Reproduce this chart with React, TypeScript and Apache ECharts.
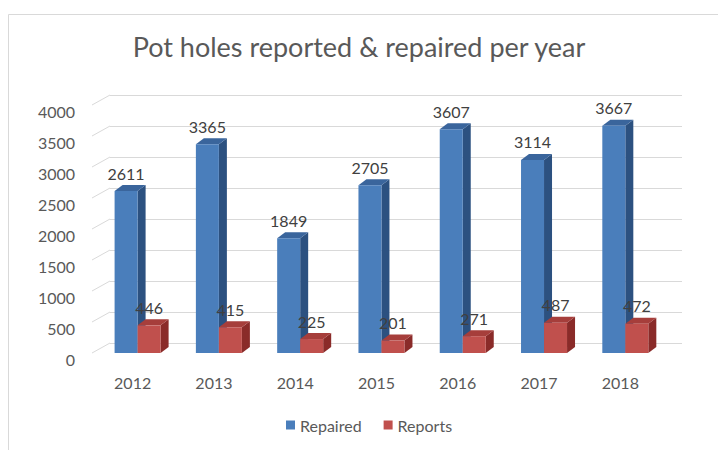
import React, { useEffect, useRef } from "react";
import * as echarts from "echarts";

const years = ["2012", "2013", "2014", "2015", "2016", "2017", "2018"];
const repaired = [2611, 3365, 1849, 2705, 3607, 3114, 3667];
const reports = [446, 415, 225, 201, 271, 487, 472];
const yTicks = [0, 500, 1000, 1500, 2000, 2500, 3000, 3500, 4000];
const seriesNames = ["Repaired", "Reports"];

const FONT = "Lato";
const TXT = "#595959";

function makeBarRender(offsetFrac: number, widthFrac: number, front: string, side: string, topc: string) {
  return (params: any, api: any) => {
    const idx = api.value(0);
    const v = api.value(1);
    const top = api.coord([idx, v]);
    const base = api.coord([idx, 0]);
    const bw = api.size([1, 0])[0];
    const x0 = top[0] + offsetFrac * bw;
    const w = widthFrac * bw;
    const y1 = top[1];
    const y0 = base[1];
    const dx = 8;
    const dy = 6;
    return {
      type: "group",
      children: [
        {
          type: "polygon",
          shape: { points: [[x0 + w, y1], [x0 + w + dx, y1 - dy], [x0 + w + dx, y0 - dy], [x0 + w, y0]] },
          style: { fill: side },
        },
        {
          type: "polygon",
          shape: { points: [[x0, y1], [x0 + dx, y1 - dy], [x0 + w + dx, y1 - dy], [x0 + w, y1]] },
          style: { fill: topc },
        },
        {
          type: "rect",
          shape: { x: x0, y: y1, width: w, height: y0 - y1 },
          style: { fill: front },
        },
        {
          type: "text",
          style: {
            text: String(v),
            x: x0 + w / 2,
            y: y1 - 18,
            align: "center",
            verticalAlign: "middle",
            fill: "#404040",
            fontSize: 16,
            fontFamily: FONT,
          },
        },
      ],
    };
  };
}

export default function App() {
  const ref = useRef<HTMLDivElement>(null);
  useEffect(() => {
    if (!ref.current) return;
    const chart = echarts.init(ref.current, undefined, { renderer: "svg" });
    const option: any = {
      animation: false,
      backgroundColor: "#ffffff",
      title: {
        text: "Pot holes reported & repaired per year",
        left: "center",
        top: 28,
        textStyle: { fontSize: 27, fontWeight: "normal", color: TXT, fontFamily: FONT },
      },
      legend: {
        data: seriesNames,
        left: 281,
        top: 412,
        icon: "rect",
        itemWidth: 9,
        itemHeight: 9,
        itemGap: 22,
        textStyle: { fontSize: 16, color: TXT, fontFamily: FONT },
      },
      graphic: [
        {
          type: "rect",
          shape: { x: 8.5, y: 14.5, width: 800, height: 600 },
          style: { fill: "none", stroke: "#d9d9d9", lineWidth: 1 },
          silent: true,
        },
      ],
      grid: [
        { left: 92, right: 57, top: 105, bottom: 97 },
        { left: 110, right: 36, top: 95, bottom: 107 },
      ],
      xAxis: [
        {
          gridIndex: 0,
          type: "category",
          data: years,
          axisLine: { show: false },
          axisTick: { show: false },
          axisLabel: { margin: 21, fontSize: 16, color: TXT, fontFamily: FONT },
        },
        { gridIndex: 1, type: "value", min: 0, max: 1, show: false },
      ],
      yAxis: [
        {
          gridIndex: 0,
          type: "value",
          min: 0,
          max: 4000,
          interval: 500,
          splitLine: { show: false },
          axisLine: { show: false },
          axisTick: { show: false },
          axisLabel: {
            margin: 17,
            fontSize: 16,
            color: TXT,
            fontFamily: FONT,
            verticalAlign: "top",
            lineHeight: 12,
            formatter: (v: number) => String(v),
          },
        },
        {
          gridIndex: 1,
          type: "value",
          min: 0,
          max: 4000,
          interval: 500,
          axisLine: { show: false },
          axisTick: { show: false },
          axisLabel: { show: false },
          splitLine: { show: true, lineStyle: { color: "#d9d9d9", width: 1 } },
        },
      ],
      series: [
        {
          type: "custom",
          name: "grid-depth",
          xAxisIndex: 0,
          yAxisIndex: 0,
          silent: true,
          z: 1,
          data: yTicks.map((t) => [0, t]),
          renderItem: (params: any, api: any) => {
            const p = api.coord([0, api.value(1)]);
            const bw = api.size([1, 0])[0];
            const left = p[0] - bw / 2;
            return {
              type: "line",
              shape: { x1: left, y1: p[1], x2: left + 18, y2: p[1] - 10 },
              style: { stroke: "#d9d9d9", lineWidth: 1 },
            };
          },
        },
        {
          type: "custom",
          name: "Repaired",
          xAxisIndex: 0,
          yAxisIndex: 0,
          z: 3,
          itemStyle: { color: "#4a7ebb" },
          data: repaired.map((v, i) => [i, v]),
          encode: { x: 0, y: 1 },
          renderItem: makeBarRender(-0.222, 0.283, "#4a7ebb", "#2c5180", "#3a659c"),
        },
        {
          type: "custom",
          name: "Reports",
          xAxisIndex: 0,
          yAxisIndex: 0,
          z: 4,
          itemStyle: { color: "#c0504d" },
          data: reports.map((v, i) => [i, v]),
          encode: { x: 0, y: 1 },
          renderItem: makeBarRender(0.061, 0.283, "#c0504d", "#8a2b29", "#a63e3b"),
        },
      ],
    };
    chart.setOption(option);
    return () => chart.dispose();
  }, []);
  return (
    <div
      ref={ref}
      style={{ position: "fixed", left: 0, top: 0, width: 718, height: 450, background: "#fff" }}
    />
  );
}
